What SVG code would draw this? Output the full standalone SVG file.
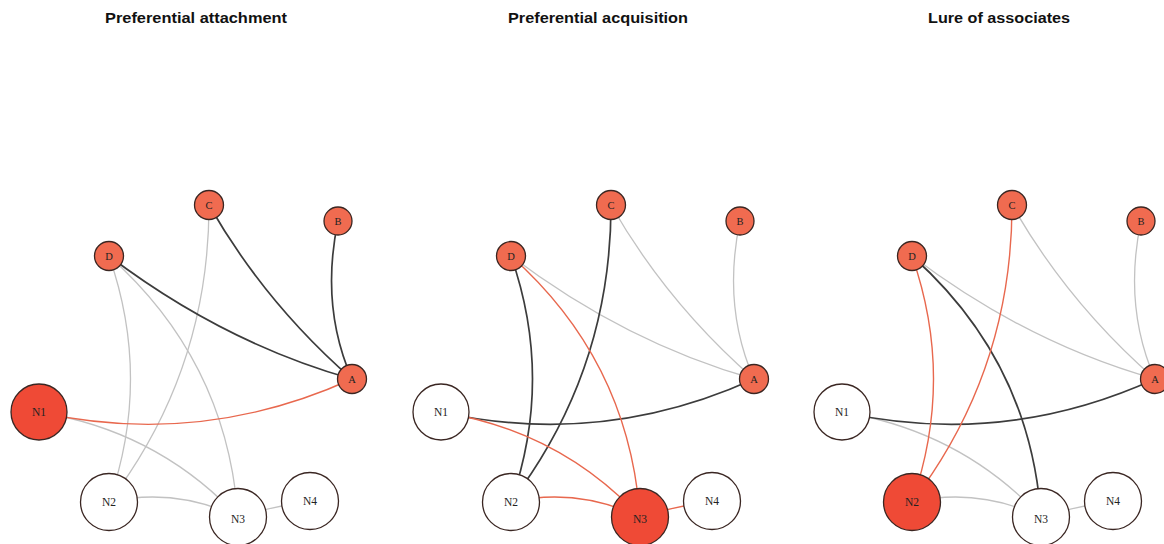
<svg xmlns="http://www.w3.org/2000/svg" width="1164" height="544" viewBox="0 0 1164 544">
<style>
.title{font-family:"Liberation Sans",Arial,sans-serif;font-weight:bold;font-size:14px;fill:#111;text-anchor:middle}
.e{fill:none}
.g{stroke:#c2c2c2;stroke-width:1.3}
.d{stroke:#3c3c3c;stroke-width:1.7}
.r{stroke:#e8684e;stroke-width:1.4}
.s{fill:#f06b50;stroke:#3a2622;stroke-width:1.3}
.big{stroke:#3a2622;stroke-width:1.3}
.hot{fill:#ef4a36}
.cold{fill:#ffffff}
.lbl{font-family:"Liberation Serif","Times New Roman",serif;font-size:11.5px;fill:#222;text-anchor:middle;dominant-baseline:central}
.sl{font-family:"Liberation Serif","Times New Roman",serif;font-size:10.5px;fill:#222;text-anchor:middle;dominant-baseline:central}
</style>
<rect width="1164" height="544" fill="#ffffff"/>
<text class="title" x="196" y="23" textLength="182" lengthAdjust="spacingAndGlyphs">Preferential attachment</text>
<text class="title" x="598" y="23" textLength="180" lengthAdjust="spacingAndGlyphs">Preferential acquisition</text>
<text class="title" x="999" y="23" textLength="142" lengthAdjust="spacingAndGlyphs">Lure of associates</text>

<g id="connectors">
  <g id="edges-p1">
    <path class="e g" d="M109,256 Q152,379 109,502"/>
    <path class="e g" d="M109,256 Q227,361 238,517"/>
    <path class="e g" d="M209,205 Q209,371 109,502"/>
    <path class="e g" d="M39,412 Q158,431 238,517"/>
    <path class="e g" d="M109,502 Q175,487 238,517"/>
    <path class="e g" d="M238,517 Q274,506 310,501"/>
    <path class="e d" d="M209,205 Q265,303 352,379"/>
    <path class="e d" d="M338,221 Q320,306 352,379"/>
    <path class="e d" d="M109,256 Q224,343 352,379"/>
    <path class="e r" d="M39,412 Q200,448 352,379"/>
  </g>
  <g id="edges-p2" transform="translate(402,0)">
    <path class="e g" d="M209,205 Q265,303 352,379"/>
    <path class="e g" d="M338,221 Q320,306 352,379"/>
    <path class="e g" d="M109,256 Q224,343 352,379"/>
    <path class="e d" d="M39,412 Q200,448 352,379"/>
    <path class="e d" d="M109,256 Q152,379 109,502"/>
    <path class="e d" d="M209,205 Q209,371 109,502"/>
    <path class="e r" d="M109,256 Q227,361 238,517"/>
    <path class="e r" d="M39,412 Q158,431 238,517"/>
    <path class="e r" d="M109,502 Q175,487 238,517"/>
    <path class="e r" d="M238,517 Q274,506 310,501"/>
  </g>
  <g id="edges-p3" transform="translate(803,0)">
    <path class="e g" d="M209,205 Q265,303 352,379"/>
    <path class="e g" d="M338,221 Q320,306 352,379"/>
    <path class="e g" d="M109,256 Q224,343 352,379"/>
    <path class="e g" d="M39,412 Q158,431 238,517"/>
    <path class="e g" d="M109,502 Q175,487 238,517"/>
    <path class="e g" d="M238,517 Q274,506 310,501"/>
    <path class="e d" d="M39,412 Q200,448 352,379"/>
    <path class="e d" d="M109,256 Q227,361 238,517"/>
    <path class="e r" d="M109,256 Q152,379 109,502"/>
    <path class="e r" d="M209,205 Q209,371 109,502"/>
  </g>
</g>

<g id="p1-C"><circle class="s" cx="209" cy="205" r="14.5"/><text class="sl" x="209" y="205">C</text></g>
<g id="p1-B"><circle class="s" cx="338" cy="221" r="14"/><text class="sl" x="338" y="221">B</text></g>
<g id="p1-D"><circle class="s" cx="109" cy="256" r="14.5"/><text class="sl" x="109" y="256">D</text></g>
<g id="p1-A"><circle class="s" cx="352" cy="379" r="14.5"/><text class="sl" x="352" y="379">A</text></g>
<g id="p1-N1"><circle class="big hot" cx="39" cy="412" r="28"/><text class="lbl" x="39" y="412">N1</text></g>
<g id="p1-N2"><circle class="big cold" cx="109" cy="502" r="28.5"/><text class="lbl" x="109" y="502">N2</text></g>
<g id="p1-N3"><circle class="big cold" cx="238" cy="517" r="28.5"/><text class="lbl" x="238" y="519">N3</text></g>
<g id="p1-N4"><circle class="big cold" cx="310" cy="501" r="28.5"/><text class="lbl" x="310" y="501">N4</text></g>

<g id="p2-C"><circle class="s" cx="611" cy="205" r="14.5"/><text class="sl" x="611" y="205">C</text></g>
<g id="p2-B"><circle class="s" cx="740" cy="221" r="14"/><text class="sl" x="740" y="221">B</text></g>
<g id="p2-D"><circle class="s" cx="511" cy="256" r="14.5"/><text class="sl" x="511" y="256">D</text></g>
<g id="p2-A"><circle class="s" cx="754" cy="379" r="14.5"/><text class="sl" x="754" y="379">A</text></g>
<g id="p2-N1"><circle class="big cold" cx="441" cy="412" r="28"/><text class="lbl" x="441" y="412">N1</text></g>
<g id="p2-N2"><circle class="big cold" cx="511" cy="502" r="28.5"/><text class="lbl" x="511" y="502">N2</text></g>
<g id="p2-N3"><circle class="big hot" cx="640" cy="517" r="28.5"/><text class="lbl" x="640" y="519">N3</text></g>
<g id="p2-N4"><circle class="big cold" cx="712" cy="501" r="28.5"/><text class="lbl" x="712" y="501">N4</text></g>

<g id="p3-C"><circle class="s" cx="1012" cy="205" r="14.5"/><text class="sl" x="1012" y="205">C</text></g>
<g id="p3-B"><circle class="s" cx="1141" cy="221" r="14"/><text class="sl" x="1141" y="221">B</text></g>
<g id="p3-D"><circle class="s" cx="912" cy="256" r="14.5"/><text class="sl" x="912" y="256">D</text></g>
<g id="p3-A"><circle class="s" cx="1155" cy="379" r="14.5"/><text class="sl" x="1155" y="379">A</text></g>
<g id="p3-N1"><circle class="big cold" cx="842" cy="412" r="28"/><text class="lbl" x="842" y="412">N1</text></g>
<g id="p3-N2"><circle class="big hot" cx="912" cy="502" r="28.5"/><text class="lbl" x="912" y="502">N2</text></g>
<g id="p3-N3"><circle class="big cold" cx="1041" cy="517" r="28.5"/><text class="lbl" x="1041" y="519">N3</text></g>
<g id="p3-N4"><circle class="big cold" cx="1113" cy="501" r="28.5"/><text class="lbl" x="1113" y="501">N4</text></g>
</svg>
